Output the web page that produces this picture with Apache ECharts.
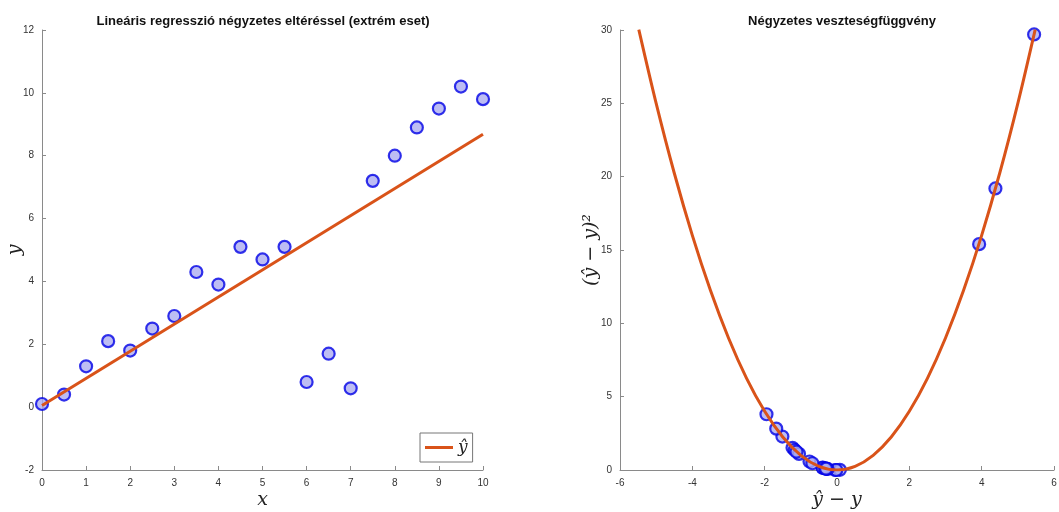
<!DOCTYPE html>
<html>
<head>
<meta charset="utf-8">
<script src="https://cdn.jsdelivr.net/npm/echarts@6/dist/echarts.min.js"></script>
<style>
	html, body {margin: 0; padding: 0; background: #fff;}
	#chart {width: 1059px; height: 512px;}
</style>
</head>
<body>
<div id="chart"></div>
<script>
// left panel: data and fitted line
let dataX = [0, 0.5, 1, 1.5, 2, 2.5, 3, 3.5, 4, 4.5, 5, 5.5, 6, 6.5, 7, 7.5, 8, 8.5, 9, 9.5, 10];
let dataY = [0.1, 0.4, 1.3, 2.1, 1.8, 2.5, 2.9, 4.3, 3.9, 5.1, 4.7, 5.1, 0.8, 1.7, 0.6, 7.2, 8.0, 8.9, 9.5, 10.2, 9.8];
let fitX = [0, 10];
let fitY = [0.05, 8.68];

// right panel: residuals and squared loss
let resid = [-0.05, 0.08, -0.39, -0.76, -0.02, -0.29, -0.26, -1.23, -0.4, -1.17, -0.33, -0.3, 4.38, 3.93, 5.45, -0.68, -1.05, -1.51, -1.68, -1.95, -1.12];
let loss = [0.0, 0.01, 0.15, 0.58, 0.0, 0.08, 0.07, 1.51, 0.16, 1.37, 0.11, 0.09, 19.2, 15.4, 29.7, 0.46, 1.1, 2.28, 2.82, 3.8, 1.25];
let curveX = [-5.48, -5, -4.5, -4, -3.5, -3, -2.5, -2, -1.5, -1, -0.5, 0, 0.5, 1, 1.5, 2, 2.5, 3, 3.5, 4, 4.5, 5, 5.48];
let curveY = [30.03, 25, 20.25, 16, 12.25, 9, 6.25, 4, 2.25, 1, 0.25, 0, 0.25, 1, 2.25, 4, 6.25, 9, 12.25, 16, 20.25, 25, 30.03];

let zip = (a, b) => a.map((v, i) => [v, b[i]]);

let axisColor = '#8a8a8a';
let labelStyle = {color: '#333', fontSize: 10, fontFamily: 'Liberation Sans'};
let mathName = {fontFamily: 'DejaVu Serif', fontStyle: 'italic', fontSize: 19, color: '#222'};

let baseAxis = (extra) => Object.assign({
	type: 'value',
	axisLine: {show: true, onZero: false, lineStyle: {color: axisColor}},
	axisTick: {show: true, inside: true, length: 4, lineStyle: {color: axisColor}},
	axisLabel: labelStyle,
	splitLine: {show: false},
	nameLocation: 'middle',
	nameMoveOverlap: false,
	nameTextStyle: mathName,
}, extra);

let markerStyle = {color: '#adadf0', borderColor: '#0000e6', borderWidth: 2.2};
let orange = '#d95319';

let chart = echarts.init(document.getElementById('chart'));
chart.setOption({
	animation: false,
	title: [
		{
			text: 'Lineáris regresszió négyzetes eltéréssel (extrém eset)',
			left: 258, top: 10, textAlign: 'center',
			textStyle: {fontSize: 13, fontWeight: 'bold', color: '#111', fontFamily: 'Liberation Sans'},
		},
		{
			text: 'Négyzetes veszteségfüggvény',
			left: 837, top: 10, textAlign: 'center',
			textStyle: {fontSize: 13, fontWeight: 'bold', color: '#111', fontFamily: 'Liberation Sans'},
		},
	],
	grid: [
		{left: 42, top: 30, width: 441, height: 440, containLabel: false, outerBoundsMode: 'none'},
		{left: 620, top: 30, width: 434, height: 440, containLabel: false, outerBoundsMode: 'none'},
	],
	xAxis: [
		baseAxis({gridIndex: 0, min: 0, max: 10, interval: 1, name: 'x', nameGap: 21}),
		baseAxis({gridIndex: 1, min: -6, max: 6, interval: 2, name: 'ŷ − y', nameGap: 21}),
	],
	yAxis: [
		baseAxis({gridIndex: 0, min: -2, max: 12, interval: 2, name: 'y', nameGap: 17}),
		baseAxis({gridIndex: 1, min: 0, max: 30, interval: 5, name: '(ŷ − y)²', nameGap: 19}),
	],
	legend: {
		data: [{name: 'ŷ', icon: 'rect'}],
		left: 420, top: 433,
		padding: [6, 5, 6, 5],
		itemWidth: 28, itemHeight: 3,
		itemGap: 4,
		borderColor: '#777', borderWidth: 1,
		backgroundColor: '#fff',
		textStyle: {fontFamily: 'DejaVu Serif', fontStyle: 'italic', fontSize: 17, color: '#222'},
	},
	series: [
		{
			type: 'scatter', xAxisIndex: 0, yAxisIndex: 0,
			data: zip(dataX, dataY), symbolSize: 12, itemStyle: markerStyle, z: 2,
		},
		{
			name: 'ŷ', type: 'line', xAxisIndex: 0, yAxisIndex: 0,
			data: zip(fitX, fitY), symbol: 'none',
			lineStyle: {color: orange, width: 3}, itemStyle: {color: orange}, z: 3,
		},
		{
			type: 'scatter', xAxisIndex: 1, yAxisIndex: 1,
			data: zip(resid, loss), symbolSize: 12, itemStyle: markerStyle, z: 2,
		},
		{
			type: 'line', xAxisIndex: 1, yAxisIndex: 1,
			data: zip(curveX, curveY), symbol: 'none', smooth: 0.3,
			lineStyle: {color: orange, width: 3}, z: 3,
		},
	],
});
</script>
</body>
</html>
